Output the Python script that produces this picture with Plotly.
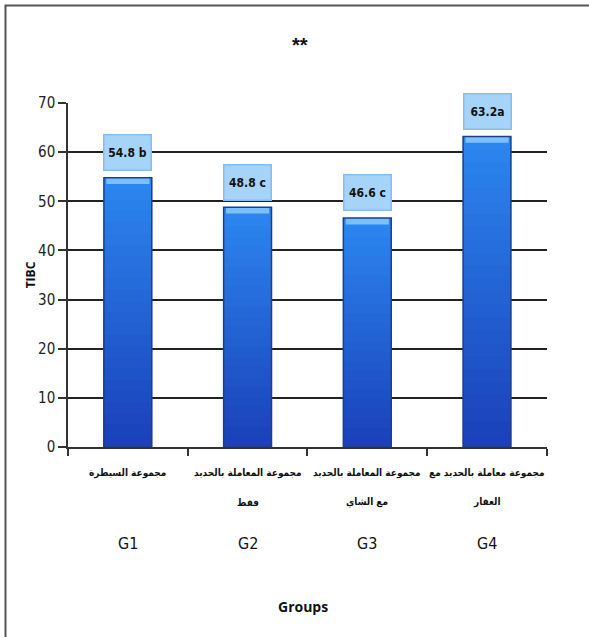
import plotly.graph_objects as go

# Group data
groups = ["G1", "G2", "G3", "G4"]
name_line1 = [
    "مجموعة السيطرة",
    "مجموعة المعاملة بالحديد",
    "مجموعة المعاملة بالحديد",
    "مجموعة معاملة بالحديد مع",
]
name_line2 = ["", "فقط", "مع الشاي", "العقار"]
tibc = [54.8, 48.8, 46.6, 63.2]
value_labels = ["54.8 b", "48.8 c", "46.6 c", "63.2a"]
y_ticks = [0, 10, 20, 30, 40, 50, 60, 70]

NARROW = "DejaVu Sans Condensed, Liberation Sans Narrow, DejaVu Sans, sans-serif"

fig = go.Figure()

# Vertical shading: overlapping bars from full height (bright) to short (dark)
n_steps = 24
bright = (44, 134, 240)
dark = (27, 66, 186)
for k in range(n_steps):
    t = k / (n_steps - 1)
    c = tuple(int(bright[i] + (dark[i] - bright[i]) * t) for i in range(3))
    fig.add_trace(go.Bar(
        x=groups,
        y=[v * (n_steps - k) / n_steps for v in tibc],
        width=0.4,
        marker=dict(color="rgb(%d,%d,%d)" % c, line=dict(width=0)),
        hoverinfo="skip",
        showlegend=False,
    ))

# Bevel highlight on the bar tops
bevel = 1.3
fig.add_trace(go.Bar(
    x=groups,
    y=[bevel] * len(tibc),
    base=[v - bevel for v in tibc],
    width=0.36,
    marker=dict(color="#7cc0fb", line=dict(width=0)),
    showlegend=False, hoverinfo="skip",
))

# Bar outline
fig.add_trace(go.Bar(
    x=groups, y=tibc, width=0.4,
    marker=dict(color="rgba(0,0,0,0)", line=dict(color="#1b3f8c", width=1.5)),
    showlegend=False, hoverinfo="skip",
))

fig.update_layout(
    barmode="overlay",
    width=589, height=637,
    margin=dict(l=68, r=42, t=103, b=190),
    paper_bgcolor="white",
    plot_bgcolor="white",
    showlegend=False,
    xaxis=dict(
        type="category",
        showticklabels=False,
        tickson="boundaries",
        ticks="outside",
        ticklen=7,
        tickcolor="#333333",
        tickwidth=1.5,
        showline=True,
        linecolor="#333333",
        linewidth=1.5,
        showgrid=False,
    ),
    yaxis=dict(
        range=[0, 70],
        tickvals=y_ticks,
        ticks="outside",
        ticklen=8,
        tickcolor="#333333",
        tickwidth=1.5,
        showline=True,
        linecolor="#333333",
        linewidth=1.5,
        showgrid=True,
        gridcolor="#222222",
        gridwidth=1.5,
        zeroline=False,
        tickfont=dict(family=NARROW, size=15, color="#222222"),
        title=dict(text="<b>TIBC</b>", font=dict(family="Open Sans, sans-serif", size=12, color="#111111"), standoff=0),
    ),
)

# Value labels above the bars
for g, v, lab in zip(groups, tibc, value_labels):
    fig.add_annotation(
        x=g, y=v, xref="x", yref="y",
        text="<b>" + lab + "</b>", showarrow=False, yshift=25,
        width=40, height=28,
        font=dict(family=NARROW, size=12, color="#111111"),
        bgcolor="#a6d3f8", bordercolor="#86bdee", borderwidth=1.5, borderpad=3,
    )

# Category names (two lines) and group codes under the axis
ARABIC = "DejaVu Sans Condensed, DejaVu Sans, sans-serif"
for g, l1, l2 in zip(groups, name_line1, name_line2):
    fig.add_annotation(
        x=g, y=-0.0756, xref="x", yref="paper",
        text="<b>" + l1 + "</b>", showarrow=False, yanchor="middle",
        font=dict(family=ARABIC, size=10, color="#111111"),
    )
    if l2:
        fig.add_annotation(
            x=g, y=-0.16, xref="x", yref="paper",
            text="<b>" + l2 + "</b>", showarrow=False, yanchor="middle",
            font=dict(family=ARABIC, size=10, color="#111111"),
        )
    fig.add_annotation(
        x=g, y=-0.28, xref="x", yref="paper",
        text=g, showarrow=False, yanchor="middle",
        font=dict(family=NARROW, size=16, color="#111111"),
    )

# Title marks and x-axis caption
fig.add_annotation(
    x=0.485, y=1.205, xref="paper", yref="paper", text="<b>**</b>",
    showarrow=False, font=dict(family="Liberation Sans, sans-serif", size=20, color="#111111"),
)
fig.add_annotation(
    x=0.49, y=-0.498, xref="paper", yref="paper", text="<b>Groups</b>",
    showarrow=False, font=dict(family="Open Sans, sans-serif", size=14, color="#111111"),
)

# Outer frame
fig.add_shape(
    type="rect", xref="paper", yref="paper",
    x0=-0.1305, x1=1.15, y0=-0.6, y1=1.2834,
    line=dict(color="#555555", width=2), fillcolor="rgba(0,0,0,0)", layer="below",
)

fig.write_html("out.html")
